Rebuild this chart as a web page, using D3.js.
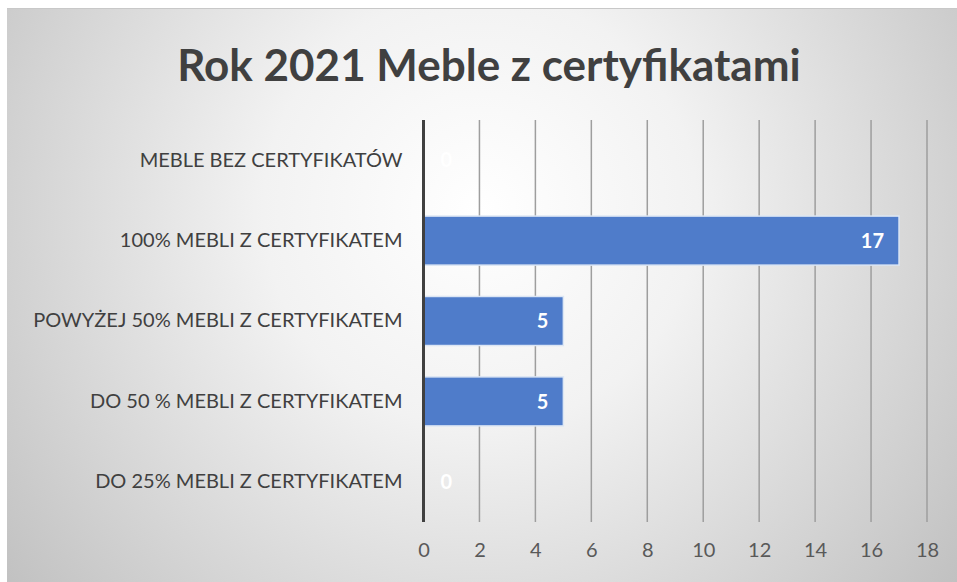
<!DOCTYPE html>
<html>
<head>
<meta charset="utf-8">
<script src="https://cdn.jsdelivr.net/npm/d3@7"></script>
<style>
  body { margin: 0; background: #fff; }
  svg { display: block; }
</style>
</head>
<body>
<svg id="chart" width="957" height="582"></svg>
<script>
// data
const categories = [
  "MEBLE BEZ CERTYFIKATÓW",
  "100% MEBLI Z CERTYFIKATEM",
  "POWYŻEJ 50% MEBLI Z CERTYFIKATEM",
  "DO 50 % MEBLI Z CERTYFIKATEM",
  "DO 25% MEBLI Z CERTYFIKATEM"
];
const values = [0, 17, 5, 5, 0];
const xTicks = [0, 2, 4, 6, 8, 10, 12, 14, 16, 18];
const title = "Rok 2021 Meble z certyfikatami";

const svg = d3.select("#chart");
const W = 957, H = 582;
const margin = { top: 120, right: 30, bottom: 60, left: 423.5 };

// background gradient
const defs = svg.append("defs");
const grad = defs.append("radialGradient")
  .attr("id", "bg")
  .attr("gradientUnits", "userSpaceOnUse")
  .attr("cx", 480).attr("cy", 210).attr("r", 620);
grad.append("stop").attr("offset", "0%").attr("stop-color", "#ffffff");
grad.append("stop").attr("offset", "35%").attr("stop-color", "#f2f2f2");
grad.append("stop").attr("offset", "100%").attr("stop-color", "#bfbfbf");

svg.append("rect")
  .attr("x", 7).attr("y", 8)
  .attr("width", W - 7).attr("height", H - 8)
  .attr("fill", "url(#bg)");
svg.append("line")
  .attr("x1", 7).attr("x2", W).attr("y1", 8.5).attr("y2", 8.5)
  .attr("stroke", "#c8c8c8").attr("stroke-width", 1);

const x = d3.scaleLinear().domain([0, 18]).range([margin.left, 927]);
const y = d3.scaleBand().domain(categories)
  .range([margin.top, 522]).paddingInner(0.39).paddingOuter(0.195);

// title
svg.append("text")
  .attr("x", 489).attr("y", 81)
  .attr("text-anchor", "middle")
  .attr("font-family", "Lato, 'Open Sans', sans-serif")
  .attr("font-weight", "bold")
  .attr("font-size", 44)
  .attr("fill", "#404040")
  .text(title);

// gridlines
svg.append("g")
  .selectAll("line")
  .data(xTicks.slice(1))
  .join("line")
  .attr("x1", d => x(d)).attr("x2", d => x(d))
  .attr("y1", margin.top).attr("y2", 522)
  .attr("stroke", "#9e9e9e").attr("stroke-width", 1.5);

// x axis labels
const xAxis = svg.append("g")
  .attr("transform", `translate(0,522)`)
  .call(d3.axisBottom(x).tickValues(xTicks).tickSize(0).tickPadding(21));
xAxis.select(".domain").remove();
xAxis.selectAll("text")
  .attr("font-family", "Lato, sans-serif")
  .attr("font-size", 20)
  .attr("fill", "#595959");

// bars
svg.append("g")
  .selectAll("rect")
  .data(values)
  .join("rect")
  .attr("x", x(0))
  .attr("y", (d, i) => y(categories[i]))
  .attr("width", d => x(d) - x(0))
  .attr("height", y.bandwidth())
  .attr("fill", "#4f7cca")
  .attr("stroke", "#dce6f4")
  .attr("stroke-width", d => d > 0 ? 1.5 : 0);

// value labels
svg.append("g")
  .selectAll("text")
  .data(values)
  .join("text")
  .attr("x", d => d > 0 ? x(d) - 15 : x(0) + 17)
  .attr("y", (d, i) => y(categories[i]) + y.bandwidth() / 2)
  .attr("dy", "0.36em")
  .attr("text-anchor", d => d > 0 ? "end" : "start")
  .attr("font-family", "Lato, sans-serif")
  .attr("font-weight", "bold")
  .attr("font-size", 20)
  .attr("fill", "#ffffff")
  .text(d => d);

// y axis (category labels + vertical line)
const yAxis = svg.append("g")
  .attr("transform", `translate(${x(0)},0)`)
  .call(d3.axisLeft(y).tickSize(0).tickPadding(21));
yAxis.select(".domain").remove();
yAxis.selectAll("text")
  .attr("font-family", "Lato, sans-serif")
  .attr("font-size", 20)
  .attr("fill", "#404040");

svg.append("line")
  .attr("x1", x(0)).attr("x2", x(0))
  .attr("y1", margin.top).attr("y2", 522)
  .attr("stroke", "#404040").attr("stroke-width", 3);
</script>
</body>
</html>
